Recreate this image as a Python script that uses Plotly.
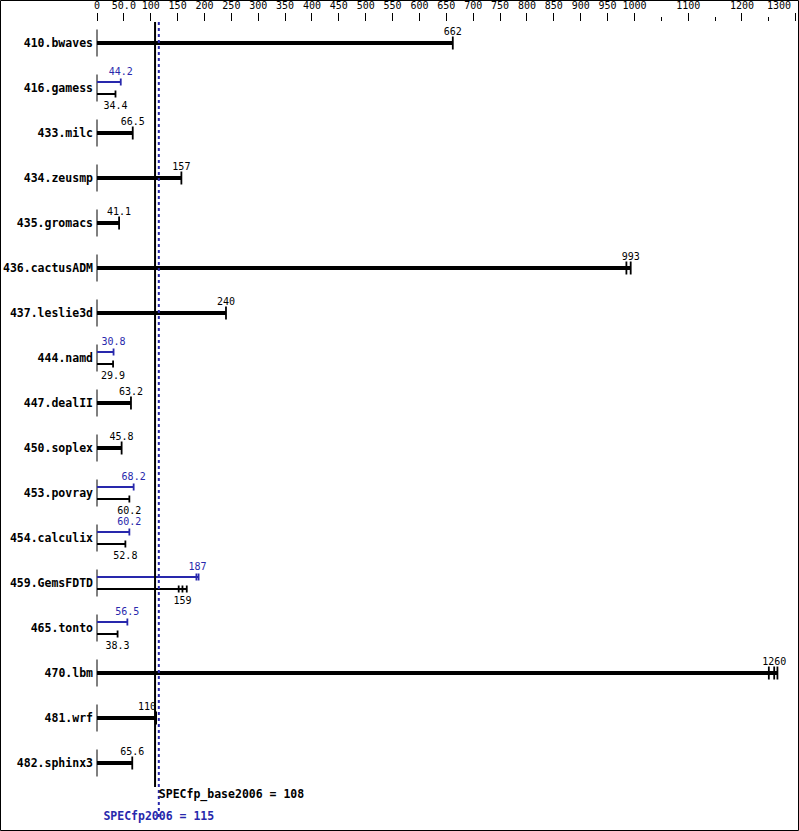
import plotly.graph_objects as go

benchmarks = ["410.bwaves", "416.gamess", "433.milc", "434.zeusmp", "435.gromacs",
              "436.cactusADM", "437.leslie3d", "444.namd", "447.dealII", "450.soplex",
              "453.povray", "454.calculix", "459.GemsFDTD", "465.tonto", "470.lbm",
              "481.wrf", "482.sphinx3"]
base_scores = [662, 34.4, 66.5, 157, 41.1, 993, 240, 29.9, 63.2, 45.8,
               60.2, 52.8, 159, 38.3, 1260, 110, 65.6]
peak_scores = [None, 44.2, None, None, None, None, None, 30.8, None, None,
               68.2, 60.2, 187, 56.5, None, None, None]
base_runs = [[662], [34.4], [66.5], [157], [41.1], [985, 993], [240], [29.9], [63.2], [45.8],
             [60.2], [52.8], [152, 159, 167], [38.3], [1250, 1260, 1266], [110], [65.6]]
peak_runs = [None, [44.2], None, None, None, None, None, [30.8], None, None,
             [68.2], [60.2], [185, 189], [56.5], None, None, None]
base_overall = 108
peak_overall = 115
tick_values = [0, 50, 100, 150, 200, 250, 300, 350, 400, 450, 500, 550, 600, 650,
               700, 750, 800, 850, 900, 950, 1000, 1100, 1200, 1300]
tick_labels = ["0", "50.0", "100", "150", "200", "250", "300", "350", "400", "450", "500",
               "550", "600", "650", "700", "750", "800", "850", "900", "950", "1000",
               "1100", "1200", "1300"]
minor_ticks = [1050, 1150, 1250]

BLUE = "#2828ac"
BLACK = "#000000"
MONO = "DejaVu Sans Mono"
P = 1.0 / 45.0  # one pixel in row units


def fmt(v):
    return str(int(round(v))) if v >= 100 else f"{v:.1f}"


n = len(benchmarks)
fig = go.Figure()

# row baseline segments at zero
bx, by = [], []
for i in range(n):
    bx += [0, 0, None]
    by += [i - 13.5 * P, i + 13.5 * P, None]
fig.add_trace(go.Scatter(x=bx, y=by, mode="lines", line=dict(color=BLACK, width=1),
                         hoverinfo="skip"))

thick_x, thick_y, thick_tx, thick_ty = [], [], [], []
tb_x, tb_y, tb_tx, tb_ty = [], [], [], []
tp_x, tp_y, tp_tx, tp_ty = [], [], [], []
lab_b_x, lab_b_y, lab_b_t, lab_b_pos = [], [], [], []
lab_p_x, lab_p_y, lab_p_t = [], [], []

for i in range(n):
    runs = base_runs[i]
    if peak_scores[i] is None:
        thick_x += [0, max(runs), None]
        thick_y += [i, i, None]
        for r in runs:
            thick_tx += [r, r, None]
            thick_ty += [i - 6.5 * P, i + 6.5 * P, None]
        lab_b_x.append(base_scores[i]); lab_b_y.append(i - 11 * P); lab_b_t.append(fmt(base_scores[i]))
        # avoid colliding with the overall line
        lab_b_pos.append("middle left" if abs(base_scores[i] - base_overall) < 15 else "middle center")
    else:
        yb = i + 6 * P
        yp = i - 6 * P
        tb_x += [0, max(runs), None]
        tb_y += [yb, yb, None]
        for r in runs:
            tb_tx += [r, r, None]
            tb_ty += [yb - 3.5 * P, yb + 3.5 * P, None]
        pr = peak_runs[i]
        tp_x += [0, max(pr), None]
        tp_y += [yp, yp, None]
        for r in pr:
            tp_tx += [r, r, None]
            tp_ty += [yp - 3.5 * P, yp + 3.5 * P, None]
        lab_b_x.append(base_scores[i]); lab_b_y.append(i + 18 * P); lab_b_t.append(fmt(base_scores[i]))
        lab_b_pos.append("middle center")
        lab_p_x.append(peak_scores[i]); lab_p_y.append(i - 16 * P); lab_p_t.append(fmt(peak_scores[i]))

fig.add_trace(go.Scatter(x=thick_x, y=thick_y, mode="lines", line=dict(color=BLACK, width=4),
                         hoverinfo="skip"))
fig.add_trace(go.Scatter(x=thick_tx, y=thick_ty, mode="lines", line=dict(color=BLACK, width=1.8),
                         hoverinfo="skip"))
fig.add_trace(go.Scatter(x=tb_x, y=tb_y, mode="lines", line=dict(color=BLACK, width=2),
                         hoverinfo="skip"))
fig.add_trace(go.Scatter(x=tb_tx, y=tb_ty, mode="lines", line=dict(color=BLACK, width=1.8),
                         hoverinfo="skip"))
fig.add_trace(go.Scatter(x=tp_x, y=tp_y, mode="lines", line=dict(color=BLUE, width=2),
                         hoverinfo="skip"))
fig.add_trace(go.Scatter(x=tp_tx, y=tp_ty, mode="lines", line=dict(color=BLUE, width=1.8),
                         hoverinfo="skip"))

fig.add_trace(go.Scatter(x=lab_b_x, y=lab_b_y, mode="text", text=lab_b_t,
                         textposition=lab_b_pos,
                         textfont=dict(family=MONO, size=10, color=BLACK), hoverinfo="skip"))
fig.add_trace(go.Scatter(x=lab_p_x, y=lab_p_y, mode="text", text=lab_p_t,
                         textposition="middle center",
                         textfont=dict(family=MONO, size=10, color=BLUE), hoverinfo="skip"))

# overall lines
y_top = -21 * P
fig.add_trace(go.Scatter(x=[base_overall, base_overall], y=[y_top, n - 1 + 24 * P], mode="lines",
                         line=dict(color=BLACK, width=2), hoverinfo="skip"))
fig.add_trace(go.Scatter(x=[peak_overall, peak_overall], y=[y_top, n - 1 + 57 * P], mode="lines",
                         line=dict(color=BLUE, width=2, dash="dot"), hoverinfo="skip"))
fig.add_trace(go.Scatter(x=[peak_overall], y=[n - 1 + 32 * P], mode="text",
                         text=[f"SPECfp_base2006 = {base_overall}"], textposition="middle right",
                         textfont=dict(family=MONO, size=11.5, color=BLACK, weight="bold"),
                         hoverinfo="skip"))
fig.add_trace(go.Scatter(x=[peak_overall], y=[n - 1 + 54 * P], mode="text",
                         text=[f"SPECfp2006 = {peak_overall}"], textposition="middle center",
                         textfont=dict(family=MONO, size=11.5, color=BLUE, weight="bold"),
                         hoverinfo="skip"))

shown_labels = tick_labels[:-1] + [""]

# geometry: plot area px x 94..798, y 22..831
s = 698.7 / 1300.0
x0 = -3.0 / s
x1 = 1300 + (704 - 3 - 698.7) / s
top_px, bot_px = 22, 831
ylo = (top_px - 43) / 45.0
yhi = (bot_px - 43) / 45.0
W, H = 704.0, 809.0

fig.update_layout(
    width=799, height=831,
    margin=dict(l=94, r=1, t=22, b=0, autoexpand=False),
    paper_bgcolor="white", plot_bgcolor="white",
    showlegend=False,
    xaxis=dict(range=[x0, x1], side="top", tickmode="array", tickvals=tick_values,
               ticktext=shown_labels, ticks="outside", ticklen=8, tickwidth=1, tickcolor=BLACK,
               tickfont=dict(family=MONO, size=10, color=BLACK), automargin=False,
               minor=dict(tickvals=minor_ticks, ticks="outside", ticklen=4, tickwidth=1,
                          tickcolor=BLACK, showgrid=False),
               showgrid=False, zeroline=False, showline=False, fixedrange=True),
    yaxis=dict(range=[yhi, ylo], tickmode="array", tickvals=list(range(n)), ticktext=benchmarks,
               ticks="", tickfont=dict(family=MONO, size=11.5, color=BLACK, weight="bold"),
               automargin=False,
               showgrid=False, zeroline=False, showline=False, fixedrange=True),
)

# the last axis label sits left of its tick so it stays inside the frame
fig.add_annotation(x=tick_values[-1], xref="x", y=(831 - 5) / H, yref="paper",
                   text=tick_labels[-1], showarrow=False, xanchor="right", yanchor="middle",
                   xshift=-4, borderpad=0, font=dict(family=MONO, size=10, color=BLACK))

# outer frame
fig.add_shape(type="rect", xref="paper", yref="paper",
              x0=(0.5 - 94) / W, x1=(798.5 - 94) / W,
              y0=(831 - 830.5) / H, y1=(831 - 0.5) / H,
              line=dict(color=BLACK, width=1), fillcolor="rgba(0,0,0,0)", layer="above")

fig.write_html("out.html", config={"displayModeBar": False},
               post_script="document.body.style.margin='0';document.body.style.overflow='hidden';")
